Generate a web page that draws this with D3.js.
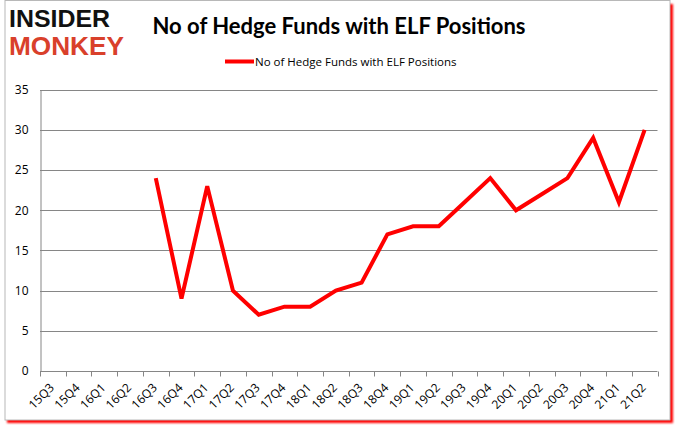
<!DOCTYPE html>
<html><head><meta charset="utf-8">
<script src="https://cdn.jsdelivr.net/npm/d3@7"></script>
<style>html,body{margin:0;padding:0;background:#fff;}svg{display:block;}</style>
</head><body><svg id="c" width="678" height="431"></svg>
<script>
const categories = ["15Q3","15Q4","16Q1","16Q2","16Q3","16Q4","17Q1","17Q2","17Q3","17Q4","18Q1","18Q2","18Q3","18Q4","19Q1","19Q2","19Q3","19Q4","20Q1","20Q2","20Q3","20Q4","21Q1","21Q2"];
const values = [null,null,null,null,24,9,23,10,7,8,8,10,11,17,18,18,21,24,20,22,24,29,21,30];
const yTicks = [0,5,10,15,20,25,30,35];
const titleText = "No of Hedge Funds with ELF Positions";
const seriesName = "No of Hedge Funds with ELF Positions";

const svg = d3.select("#c");
const defs = svg.append("defs");
const f = defs.append("filter").attr("id","sh").attr("x","-5%").attr("y","-5%").attr("width","110%").attr("height","115%");
f.append("feGaussianBlur").attr("stdDeviation",1.2);

// shadow
svg.append("rect").attr("x",7).attr("y",4).attr("width",666).attr("height",419).attr("fill","#ff0000").attr("filter","url(#sh)");
svg.append("rect").attr("x",5).attr("y",0.5).attr("width",665).attr("height",419.5).attr("fill","#fff").attr("stroke","#b8b8b8").attr("stroke-width",1);

const L=40,R=657.5,T=89.7,B=371;
const x = d3.scaleBand().domain(categories).range([L,R]);
const y = d3.scaleLinear().domain([0,35]).range([B,T]);

// gridlines
svg.append("g").selectAll("line").data(yTicks.slice(1)).join("line")
  .attr("x1",L).attr("x2",R).attr("y1",d=>Math.round(y(d))+0.5).attr("y2",d=>Math.round(y(d))+0.5)
  .attr("stroke","#868686").attr("stroke-width",1);

// y axis
const ya = svg.append("g").attr("transform",`translate(${L+0.5},0)`).call(d3.axisLeft(y).tickValues(yTicks).tickSize(0).tickPadding(12));
ya.select(".domain").attr("stroke","#868686");
ya.selectAll("text").attr("font-family","'Open Sans', 'DejaVu Sans', sans-serif").attr("font-size",12).attr("fill","#000");

// x axis
const xg = svg.append("g").attr("transform",`translate(0,${Math.round(B)+0.5})`);
xg.append("line").attr("x1",L).attr("x2",R).attr("stroke","#868686");
const bounds = categories.map(c=>x(c)).concat([R]);
xg.selectAll("line.t").data(bounds).join("line").attr("class","t")
  .attr("x1",d=>Math.round(d)+0.5).attr("x2",d=>Math.round(d)+0.5).attr("y1",0).attr("y2",5).attr("stroke","#868686");
xg.selectAll("text").data(categories).join("text")
  .attr("transform",d=>`translate(${x(d)+x.bandwidth()/2-1},${14}) rotate(-45)`)
  .attr("text-anchor","end").attr("dy","0.35em")
  .attr("font-family","'Open Sans', 'DejaVu Sans', sans-serif").attr("font-size",12).attr("fill","#000")
  .text(d=>d);

// line
const line = d3.line().defined(d=>d.v!=null).x(d=>x(d.c)+x.bandwidth()/2).y(d=>y(d.v));
svg.append("path").datum(categories.map((c,i)=>({c,v:values[i]})))
  .attr("d",line).attr("fill","none").attr("stroke","#ff0000").attr("stroke-width",4).attr("stroke-linejoin","miter").attr("stroke-linecap","butt");

// title
svg.append("text").attr("x",339).attr("y",34).attr("text-anchor","middle")
  .attr("font-family","Lato, 'Open Sans', sans-serif").attr("font-weight","bold").attr("font-size",22).attr("fill","#000").text(titleText);

// legend
svg.append("line").attr("x1",225).attr("x2",254).attr("y1",61.5).attr("y2",61.5).attr("stroke","#ff0000").attr("stroke-width",4);
svg.append("text").attr("x",255).attr("y",65.5).attr("font-family","'Open Sans', sans-serif").attr("font-size",11.5).attr("fill","#000").text(seriesName);

// logo
svg.append("text").attr("x",9).attr("y",27).attr("font-family","'Liberation Sans', sans-serif").attr("font-weight","bold").attr("font-size",23).attr("textLength",101).attr("lengthAdjust","spacingAndGlyphs").attr("fill","#111").text("INSIDER");
svg.append("text").attr("x",9).attr("y",54.5).attr("font-family","'Liberation Sans', sans-serif").attr("font-weight","bold").attr("font-size",25).attr("textLength",115).attr("lengthAdjust","spacingAndGlyphs").attr("fill","#d9402b").text("MONKEY");
</script></body></html>
